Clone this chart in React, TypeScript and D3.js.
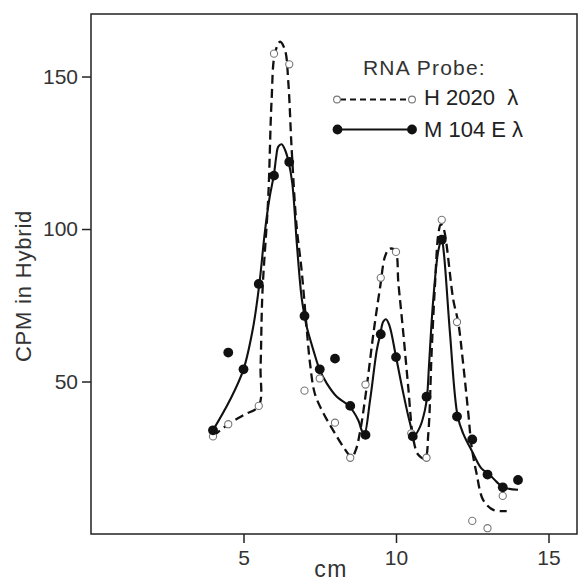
import React, { useEffect, useRef } from "react";
import * as d3 from "d3";

// H 2020 lambda probe (open circles)
const openCm = [4, 4.5, 5.5, 6, 6.5, 7, 7.5, 8, 8.5, 9, 9.5, 10, 10.5, 11, 11.5, 12, 12.5, 13, 13.5];
const openCpm = [32, 36, 42, 157.5, 154, 47, 51, 36.5, 25, 49, 84, 92.5, 33, 25, 103, 69.5, 4.3, 1.9, 12.5];

// M 104 E lambda probe (filled circles)
const filledCm = [4, 4.5, 5, 5.5, 6, 6.5, 7, 7.5, 8, 8.5, 9, 9.5, 10, 10.55, 11, 11.5, 12, 12.5, 13, 13.5, 14];
const filledCpm = [34, 59.5, 54, 82, 117.5, 122, 71.5, 54, 57.5, 42, 32.5, 65.5, 58, 32, 45, 96.5, 38.5, 31, 19.5, 15.3, 17.7];

// hand drawn curves
const dashedCm = [4, 4.5, 5, 5.5, 5.56, 5.62, 5.81, 5.92, 6.03, 6.2, 6.36, 6.47, 6.58, 6.74, 6.9, 7.05, 7.18, 7.34, 7.62, 7.94, 8.27, 8.55,
  8.68, 8.83, 9.04, 9.26, 9.48, 9.64, 9.78, 9.97, 10.08, 10.24, 10.4, 10.57, 10.73, 10.95,
  11.06, 11.17, 11.28, 11.39, 11.47, 11.55, 11.88, 12.04, 12.2, 12.37, 12.48, 12.64, 12.86, 13.19, 13.63];
const dashedCpm = [32, 36, 39, 42, 55, 79, 110, 142, 157.6, 161.4, 158.7, 148, 126, 101, 87, 70, 56, 46, 39.6, 34, 28.6, 25.3,
  27.5, 34, 48.3, 65.8, 81, 91, 93.5, 93, 82, 65.8, 48.3, 31, 26, 24.8,
  33, 60, 82, 98.5, 101.5, 100.5, 76.7, 69.4, 56, 39.6, 28.6, 19.9, 11.1, 7.9, 7.5];

const solidCm = [4, 4.56, 5, 5.32, 5.52, 5.7, 5.85, 6, 6.07, 6.14, 6.25, 6.36, 6.47, 6.6, 6.75, 6.9, 7, 7.07, 7.29, 7.5, 7.73, 8.06, 8.45, 8.76, 8.87, 8.96,
  9.15, 9.37, 9.48, 9.58, 9.67, 9.78, 10, 10.24, 10.46, 10.59, 10.79, 10.95, 11.02, 11.08, 11.22, 11.39, 11.5,
  11.57, 11.77, 12.02, 12.2, 12.5, 12.8, 13.04, 13.3, 13.52, 14];
const solidCpm = [34, 44, 54, 68, 82, 99, 110, 118, 123.5, 127, 127.8, 126, 122.4, 115, 95, 78, 71.6, 68, 60.3, 53.8, 49.4, 45, 42.1, 37.4, 34.1, 32.6,
  43.9, 60.3, 65.3, 69.6, 70.4, 68.5, 58.1, 46.1, 36.3, 32.1, 35.2, 40.7, 45.2, 54.9, 76.7, 93, 96.6,
  92, 65.8, 38.7, 33, 27, 21.5, 19.7, 17.1, 15.3, 14.5];

const xTicks = [5, 10, 15];
const yTicks = [50, 100, 150];

const FONT = "'Liberation Sans', Arial, sans-serif";
const INK = "#222";

const App = () => {
  const chartRef = useRef(null);

  useEffect(() => {
    const svg = d3.select(chartRef.current);
    svg.selectAll("*").remove();

    const x = d3.scaleLinear().domain([0, 16]).range([91, 579]);
    const y = d3.scaleLinear().domain([0, 170.5]).range([534, 14]);

    // frame
    svg.append("rect")
      .attr("x", 91).attr("y", 14)
      .attr("width", 486).attr("height", 520)
      .attr("fill", "none").attr("stroke", INK).attr("stroke-width", 1.5);

    // axes
    const gx = svg.append("g")
      .attr("transform", "translate(0,534)")
      .call(d3.axisBottom(x).tickValues(xTicks).tickSize(9).tickPadding(7).tickSizeOuter(0));
    const gy = svg.append("g")
      .attr("transform", "translate(91,0)")
      .call(d3.axisLeft(y).tickValues(yTicks).tickSize(9).tickPadding(4).tickSizeOuter(0));
    [gx, gy].forEach((g) => {
      g.select(".domain").remove();
      g.selectAll("line").attr("stroke", INK).attr("stroke-width", 1.5);
      g.selectAll("text").attr("font-family", FONT).attr("font-size", 21).attr("fill", "#333");
    });

    // axis titles
    svg.append("text")
      .attr("transform", "translate(31,286) rotate(-90)")
      .attr("text-anchor", "middle")
      .attr("font-family", FONT).attr("font-size", 22).attr("letter-spacing", 0.8)
      .attr("fill", "#333")
      .text("CPM in Hybrid");
    svg.append("text")
      .attr("x", 331).attr("y", 577)
      .attr("text-anchor", "middle")
      .attr("font-family", FONT).attr("font-size", 23).attr("letter-spacing", 1.5)
      .attr("fill", "#333")
      .text("cm");

    const line = d3.line()
      .x((d) => x(d[0]))
      .y((d) => y(d[1]))
      .curve(d3.curveCatmullRom.alpha(0.5));

    svg.append("path")
      .datum(dashedCm.map((c, i) => [c, dashedCpm[i]]))
      .attr("d", line)
      .attr("fill", "none").attr("stroke", "#111").attr("stroke-width", 2.3)
      .attr("stroke-dasharray", "9,5");

    svg.append("path")
      .datum(solidCm.map((c, i) => [c, solidCpm[i]]))
      .attr("d", line)
      .attr("fill", "none").attr("stroke", "#111").attr("stroke-width", 2.1);

    // points
    svg.append("g").selectAll("circle")
      .data(openCm.map((c, i) => [c, openCpm[i]]))
      .enter().append("circle")
      .attr("cx", (d) => x(d[0])).attr("cy", (d) => y(d[1]))
      .attr("r", 3.6)
      .attr("fill", "#fff").attr("stroke", "#777").attr("stroke-width", 1.1);

    svg.append("g").selectAll("circle")
      .data(filledCm.map((c, i) => [c, filledCpm[i]]))
      .enter().append("circle")
      .attr("cx", (d) => x(d[0])).attr("cy", (d) => y(d[1]))
      .attr("r", 4.9)
      .attr("fill", "#111");

    // legend
    const lg = svg.append("g");
    lg.append("text")
      .attr("x", 363).attr("y", 75)
      .attr("font-family", FONT).attr("font-size", 21).attr("letter-spacing", 1.2)
      .attr("fill", "#333")
      .text("RNA Probe:");

    lg.append("line")
      .attr("x1", 340).attr("x2", 409).attr("y1", 99.5).attr("y2", 99.5)
      .attr("stroke", "#111").attr("stroke-width", 2).attr("stroke-dasharray", "6,4");
    lg.selectAll("circle.o")
      .data([337, 412]).enter().append("circle")
      .attr("cx", (d) => d).attr("cy", 99.5).attr("r", 3.4)
      .attr("fill", "#fff").attr("stroke", "#777").attr("stroke-width", 1.1);

    lg.append("line")
      .attr("x1", 337).attr("x2", 412).attr("y1", 129.5).attr("y2", 129.5)
      .attr("stroke", "#111").attr("stroke-width", 2);
    lg.selectAll("circle.f")
      .data([337.5, 412]).enter().append("circle")
      .attr("cx", (d) => d).attr("cy", 129.5).attr("r", 4.9)
      .attr("fill", "#111");

    lg.append("text")
      .attr("x", 424).attr("y", 105)
      .attr("font-family", FONT).attr("font-size", 22).attr("fill", "#222")
      .style("white-space", "pre")
      .text("H 2020  \u03bb");
    lg.append("text")
      .attr("x", 424).attr("y", 137)
      .attr("font-family", FONT).attr("font-size", 22).attr("fill", "#222")
      .style("white-space", "pre")
      .text("M 104 E \u03bb");
  }, []);

  return (
    <svg
      ref={chartRef}
      width={578}
      height={582}
      style={{ position: "absolute", left: 0, top: 0, background: "#fff" }}
    />
  );
};

export default App;
